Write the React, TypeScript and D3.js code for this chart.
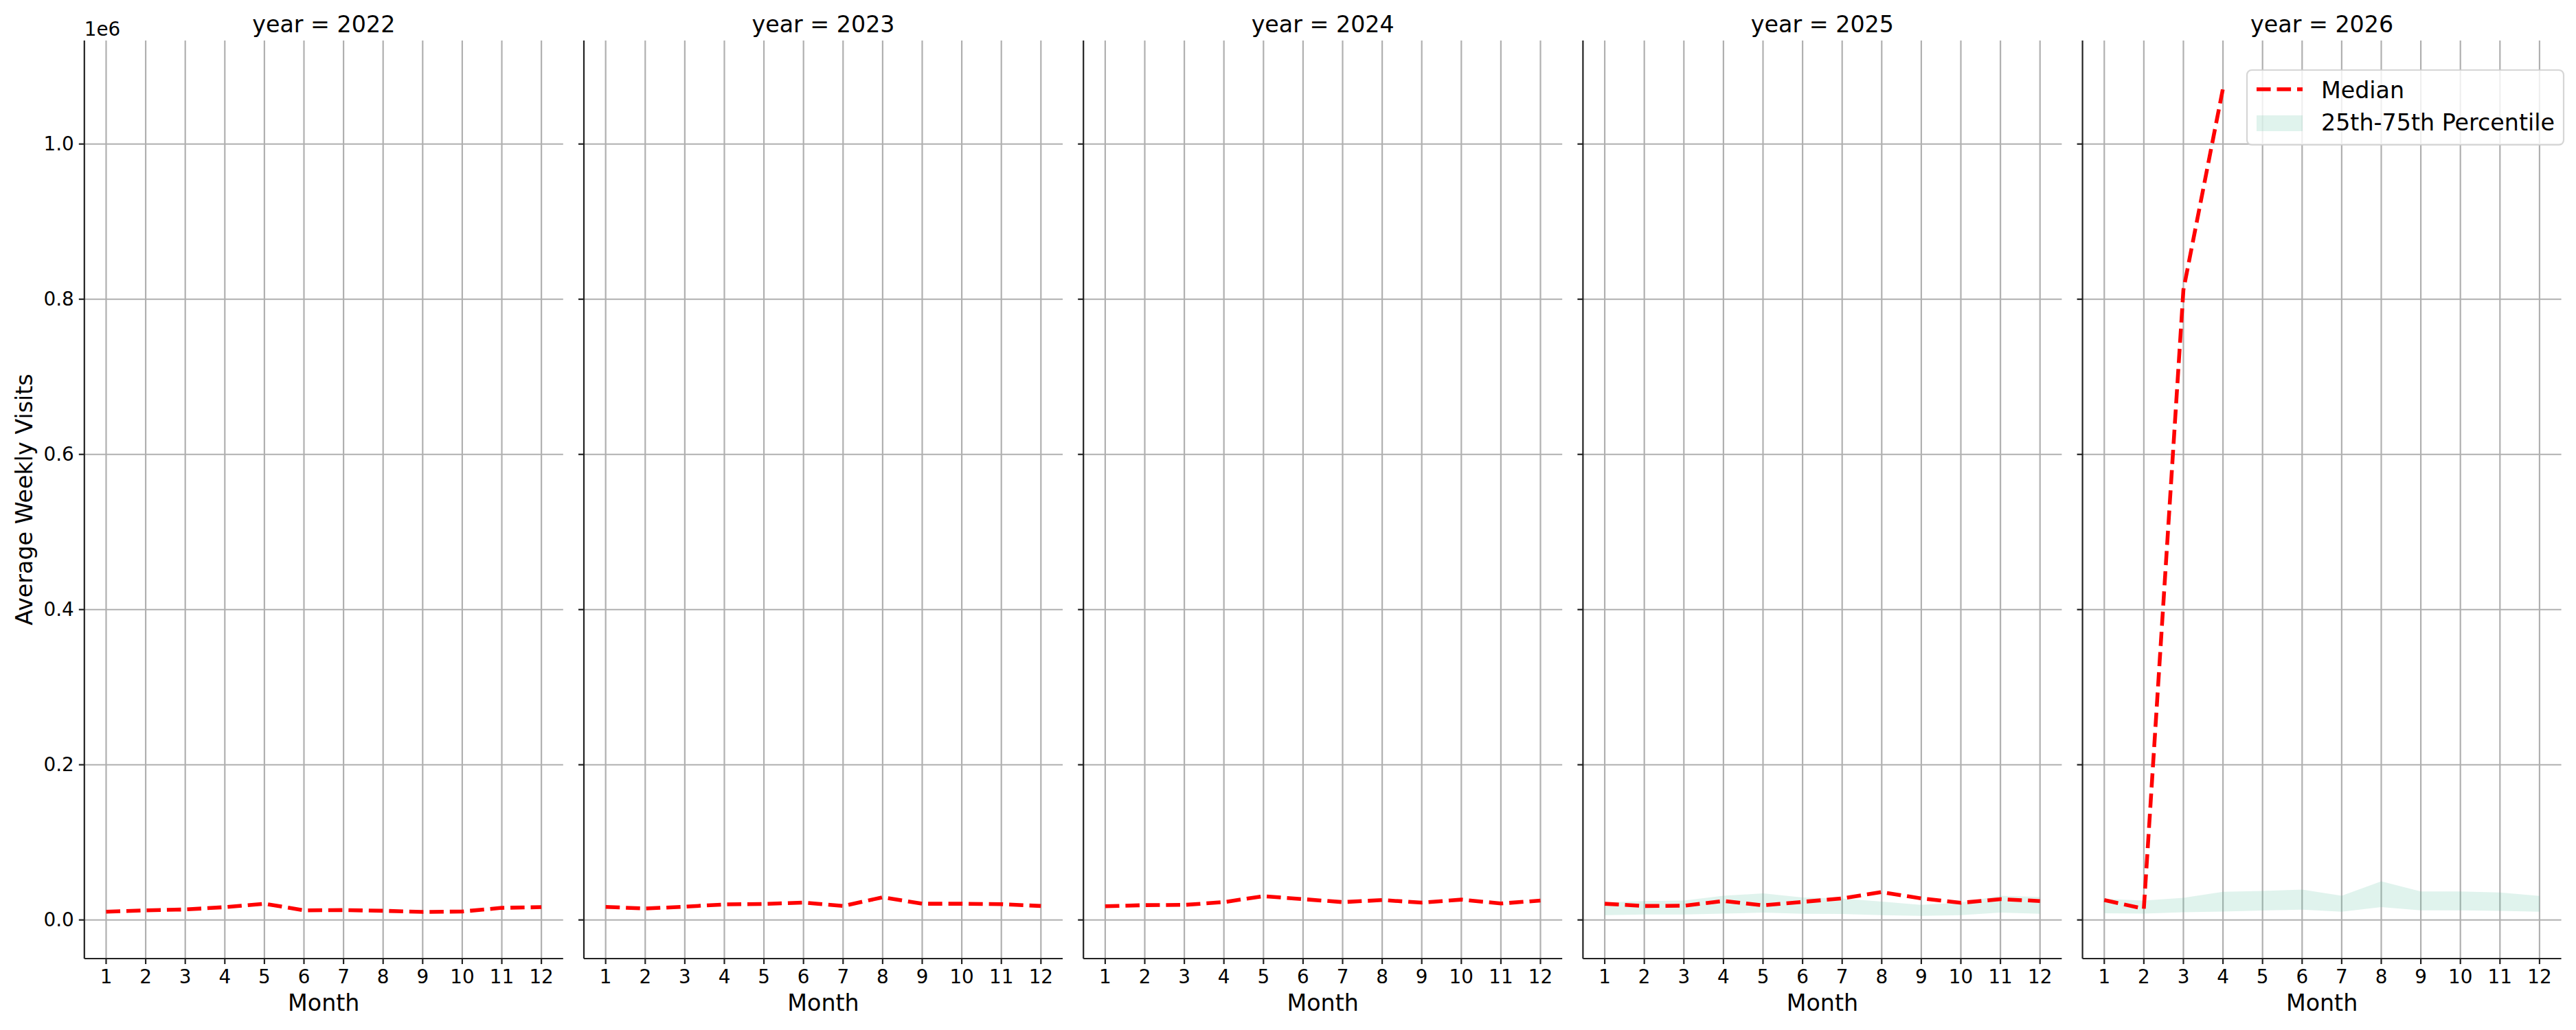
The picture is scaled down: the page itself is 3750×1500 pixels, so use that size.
import * as d3 from "d3";
import React from "react";

// monthly averages
const MONTHS = [1, 2, 3, 4, 5, 6, 7, 8, 9, 10, 11, 12];
const YEARS = [2022, 2023, 2024, 2025, 2026];

const MEDIAN_2022 = [10600, 12400, 13500, 16500, 20900, 12400, 12700, 11800, 10300, 10900, 15600, 16500];
const MEDIAN_2023 = [16800, 14700, 17100, 20000, 20600, 22400, 18000, 29200, 20900, 20900, 20300, 18000];
const MEDIAN_2024 = [17700, 19100, 19400, 23000, 30600, 26800, 23000, 25600, 22400, 26200, 21200, 25000];
const MEDIAN_2025 = [20900, 18000, 18300, 24400, 18800, 23300, 27700, 35900, 27700, 22100, 26800, 24400];
const MEDIAN_2026 = [25600, 14400, 812000, 1071700];

const P25_2025 = [6200, 7100, 7100, 8200, 9400, 8000, 7700, 6200, 5300, 6200, 9400, 8000];
const P75_2025 = [22400, 24400, 25000, 31200, 34200, 28900, 27700, 23600, 19400, 22400, 31200, 29700];
const P25_2026 = [8500, 8200, 10000, 10900, 12100, 13300, 10600, 16500, 12400, 12400, 11800, 10600];
const P75_2026 = [27100, 25000, 28600, 36200, 37400, 39200, 31200, 49800, 36800, 36800, 35300, 30900];

const MEDIANS = [MEDIAN_2022, MEDIAN_2023, MEDIAN_2024, MEDIAN_2025, MEDIAN_2026];
const P25 = [null, null, null, P25_2025, P25_2026];
const P75 = [null, null, null, P75_2025, P75_2026];

const Y_TICKS = [0, 200000, 400000, 600000, 800000, 1000000];
const Y_DOMAIN = [-49800, 1133400];

const WIDTH = 3750;
const HEIGHT = 1500;
const TOP = 59;
const BOTTOM = 1396;
const LEFT = 122.8;
const PANEL_W = 697;
const PANEL_STEP = 727.2;

const FONT = "DejaVu Sans";
const GRID = "#b0b0b0";
const SPINE = "#222222";
const RED = "#ff0000";
const BAND = "#66c2a5";

const x = d3.scaleLinear().domain([0.45, 12.55]).range([0, PANEL_W]);
const y = d3.scaleLinear().domain(Y_DOMAIN).range([BOTTOM, TOP]);

function Panel({ idx }: { idx: number }) {
  const year = YEARS[idx];
  const med = MEDIANS[idx];
  const lo = P25[idx];
  const hi = P75[idx];

  const line = d3
    .line<number>()
    .x((_, i) => x(MONTHS[i]))
    .y((d) => y(d));

  const area = d3
    .area<number>()
    .x((_, i) => x(MONTHS[i]))
    .y0((_, i) => y(lo ? lo[i] : 0))
    .y1((_, i) => y(hi ? hi[i] : 0));

  return (
    <g transform={`translate(${LEFT + idx * PANEL_STEP},0)`}>
      {/* grid */}
      {MONTHS.map((m) => (
        <line key={"gx" + m} x1={x(m)} x2={x(m)} y1={TOP} y2={BOTTOM} stroke={GRID} strokeWidth={2.2} />
      ))}
      {Y_TICKS.map((t) => (
        <line key={"gy" + t} x1={0} x2={PANEL_W} y1={y(t)} y2={y(t)} stroke={GRID} strokeWidth={2.2} />
      ))}

      {lo && hi && <path d={area(MONTHS) ?? ""} fill={BAND} fillOpacity={0.2} />}

      <path
        d={line(med) ?? ""}
        fill="none"
        stroke={RED}
        strokeWidth={5.56}
        strokeDasharray="20.6 8.9"
      />

      {/* spines */}
      <line x1={0} x2={0} y1={TOP} y2={BOTTOM} stroke={SPINE} strokeWidth={2.2} />
      <line x1={0} x2={PANEL_W} y1={BOTTOM} y2={BOTTOM} stroke={SPINE} strokeWidth={2.2} />

      {/* x ticks */}
      {MONTHS.map((m) => (
        <g key={"tx" + m}>
          <line x1={x(m)} x2={x(m)} y1={BOTTOM} y2={BOTTOM + 8} stroke={SPINE} strokeWidth={2.2} />
          <text x={x(m)} y={1432} textAnchor="middle" fontSize={27.8} fontFamily={FONT} fill="#000">
            {m}
          </text>
        </g>
      ))}

      {/* y ticks */}
      {Y_TICKS.map((t) => (
        <g key={"ty" + t}>
          <line x1={-8} x2={0} y1={y(t)} y2={y(t)} stroke={SPINE} strokeWidth={2.2} />
          {idx === 0 && (
            <text
              x={-15}
              y={y(t)}
              textAnchor="end"
              dominantBaseline="central"
              fontSize={27.8}
              fontFamily={FONT}
              fill="#000"
            >
              {(t / 1e6).toFixed(1)}
            </text>
          )}
        </g>
      ))}

      <text x={PANEL_W / 2} y={47} textAnchor="middle" fontSize={33.3} fontFamily={FONT} fill="#000">
        {`year = ${year}`}
      </text>
      <text x={PANEL_W / 2} y={1472} textAnchor="middle" fontSize={33.3} fontFamily={FONT} fill="#000">
        Month
      </text>
      {idx === 0 && (
        <text x={0} y={52} fontSize={27.8} fontFamily={FONT} fill="#000">
          1e6
        </text>
      )}
    </g>
  );
}

function Legend() {
  const lx = 3271;
  const ly = 102;
  return (
    <g>
      <rect
        x={lx}
        y={ly}
        width={461}
        height={109}
        rx={7}
        fill="#ffffff"
        fillOpacity={0.8}
        stroke="#cccccc"
        strokeOpacity={0.8}
        strokeWidth={2.2}
      />
      <line x1={lx + 14} x2={lx + 81} y1={130} y2={130} stroke={RED} strokeWidth={5.56} strokeDasharray="20.6 8.9" />
      <text x={lx + 108} y={142.5} fontSize={33.3} fontFamily={FONT} fill="#000">
        Median
      </text>
      <rect x={lx + 14} y={168} width={67} height={23} fill={BAND} fillOpacity={0.2} />
      <text x={lx + 108} y={190} fontSize={33.3} fontFamily={FONT} fill="#000">
        25th-75th Percentile
      </text>
    </g>
  );
}

export default function App() {
  return (
    <svg
      width={WIDTH}
      height={HEIGHT}
      viewBox={`0 0 ${WIDTH} ${HEIGHT}`}
      style={{ position: "absolute", left: 0, top: 0, background: "#fff" }}
    >
      <rect width={WIDTH} height={HEIGHT} fill="#fff" />
      {YEARS.map((yr, i) => (
        <Panel key={yr} idx={i} />
      ))}
      <Legend />
      <text
        transform={`translate(47,${(TOP + BOTTOM) / 2}) rotate(-90)`}
        textAnchor="middle"
        fontSize={33.3}
        fontFamily={FONT}
        fill="#000"
      >
        Average Weekly Visits
      </text>
    </svg>
  );
}
